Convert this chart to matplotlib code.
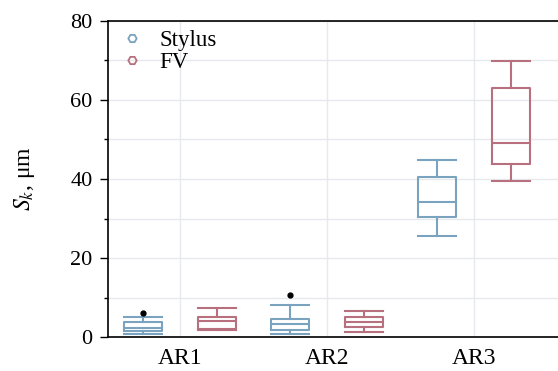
import matplotlib
matplotlib.use("Agg")

import matplotlib.pyplot as plt
from matplotlib.lines import Line2D
from matplotlib.ticker import MultipleLocator

plt.rcParams["font.family"] = ["Liberation Serif", "DejaVu Serif"]
plt.rcParams["mathtext.fontset"] = "stix"

# surfaces and box summary values
regions = ["AR1", "AR2", "AR3"]

stylus_low = [0.9, 0.9, 25.5]
stylus_q1 = [1.5, 1.8, 30.5]
stylus_med = [2.3, 3.3, 34.3]
stylus_q3 = [3.8, 4.6, 40.4]
stylus_high = [5.1, 8.1, 44.7]
stylus_out = [[6.1], [10.6], []]

fv_low = [1.8, 1.3, 39.4]
fv_q1 = [2.0, 2.7, 43.9]
fv_med = [4.0, 3.9, 49.0]
fv_q3 = [5.1, 5.2, 62.9]
fv_high = [7.3, 6.7, 69.9]
fv_out = [[], [], []]

BLUE = "#7aa3bf"
PINK = "#b8707f"


def make_stats(low, q1, med, q3, high, out):
    stats = []
    for i in range(len(low)):
        stats.append({
            "whislo": low[i], "q1": q1[i], "med": med[i],
            "q3": q3[i], "whishi": high[i], "fliers": out[i],
        })
    return stats


fig = plt.figure(figsize=(5.58, 3.71), dpi=100)
ax = fig.add_axes([0.1935, 0.0908, 0.8065, 0.8532])

pos = list(range(len(regions)))
w = 0.26
for stats, color, shift in [
    (make_stats(stylus_low, stylus_q1, stylus_med, stylus_q3, stylus_high, stylus_out), BLUE, -0.25),
    (make_stats(fv_low, fv_q1, fv_med, fv_q3, fv_high, fv_out), PINK, 0.25),
]:
    line = dict(color=color, linewidth=1.5)
    ax.bxp(
        stats,
        positions=[p + shift for p in pos],
        widths=w,
        capwidths=w,
        boxprops=line,
        whiskerprops=line,
        capprops=line,
        medianprops=line,
        flierprops=dict(marker="o", markerfacecolor="black", markeredgecolor="black",
                        markersize=3.5),
        manage_ticks=False,
    )

ax.set_xlim(-0.49, 2.571)
ax.set_ylim(0, 80)
ax.set_xticks(pos)
ax.set_xticklabels(regions)
ax.yaxis.set_major_locator(MultipleLocator(20))
ax.yaxis.set_minor_locator(MultipleLocator(10))
ax.tick_params(axis="x", length=0, pad=8, labelsize=17)
ax.tick_params(axis="y", which="major", length=6, width=1, labelsize=16, pad=5)
ax.tick_params(axis="y", which="minor", length=3, width=1)

ax.grid(True, which="both", axis="y", color="#e6e9ee", linewidth=1)
ax.grid(True, which="major", axis="x", color="#e6e9ee", linewidth=1)
ax.set_axisbelow(True)
ax.spines["right"].set_visible(False)
for s in ["left", "bottom", "top"]:
    ax.spines[s].set_linewidth(1.2)

ax.set_ylabel(r"$S_k$, μm", fontsize=17)
ax.yaxis.set_label_coords(-0.158, 0.5)

handles = [
    Line2D([], [], color=BLUE, marker="H", markerfacecolor="none", linestyle="none",
           markersize=6, markeredgewidth=1.3),
    Line2D([], [], color=PINK, marker="H", markerfacecolor="none", linestyle="none",
           markersize=6, markeredgewidth=1.3),
]
ax.legend(handles, ["Stylus", "FV"], loc="upper left", frameon=False, fontsize=16.5,
          handlelength=1.0, handletextpad=0.7, labelspacing=0.05,
          borderaxespad=0.0, bbox_to_anchor=(0.008, 1.0))

fig.savefig("out.png", dpi=100)
